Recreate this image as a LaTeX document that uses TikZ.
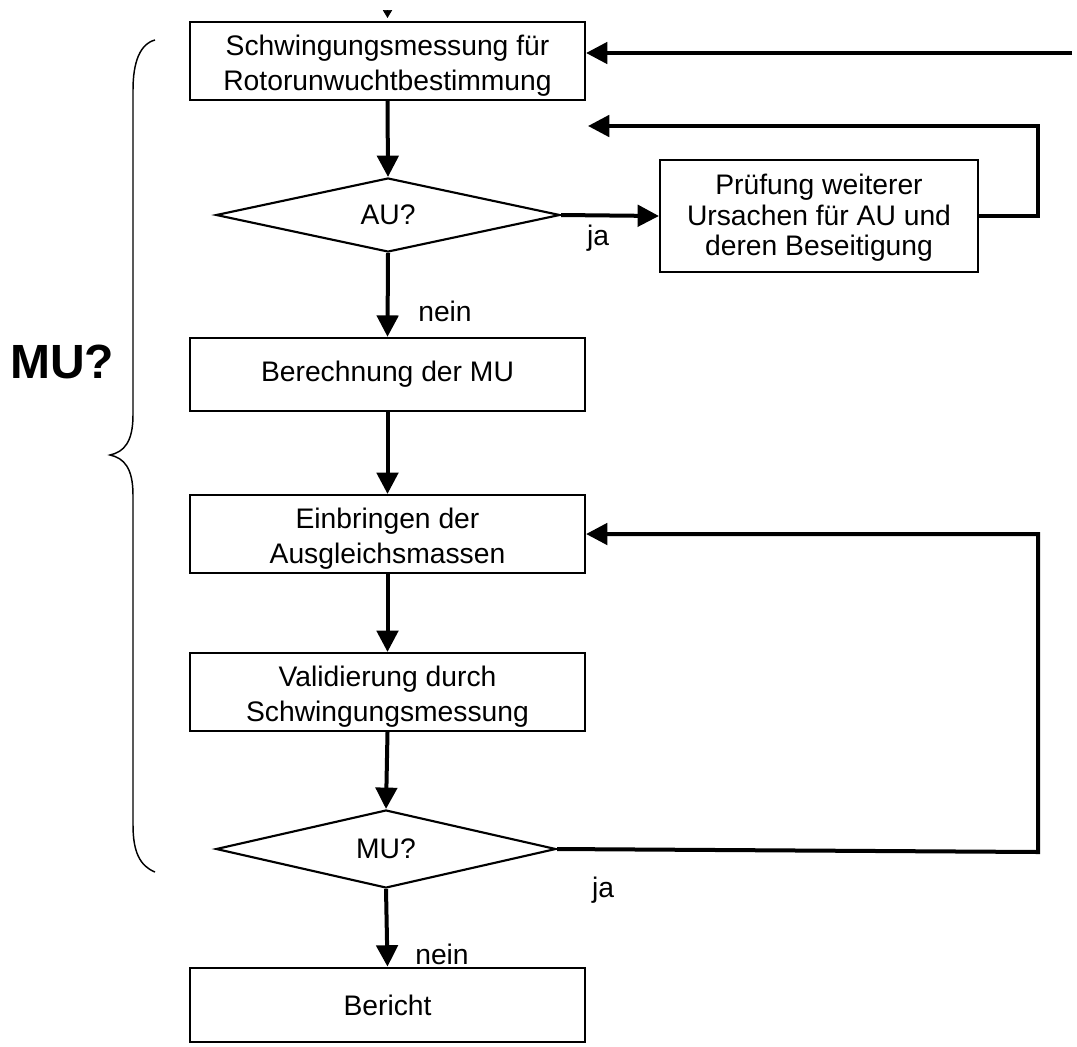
\documentclass[tikz,border=0pt]{standalone}
\usepackage{fontspec}
\setmainfont{Liberation Sans}
\usetikzlibrary{arrows.meta,shapes.geometric}
\newcommand\mytopstrut{\rule{0pt}{23pt}}
\begin{document}
\begin{tikzpicture}[x=0.75pt,y=-0.75pt,
  every node/.style={font=\fontsize{21.2}{26.2}\selectfont},
  procbox/.style={draw, line width=1.6pt, minimum width=296.25pt, minimum height=58.5pt, inner sep=2pt, align=center},
  decision/.style={diamond, draw, line width=1.6pt, inner sep=0pt, aspect=4.6},
  flow/.style={line width=3pt, -{Triangle[length=16pt,width=16pt]}},
  lbl/.style={inner sep=0pt}
]
\useasboundingbox (0,0) rectangle (1077,1046);

% nodes
\node[procbox] (mess) at (387.5,61) {\mytopstrut Schwingungsmessung für\\Rotorunwuchtbestimmung};
\node[decision, minimum width=258pt, minimum height=55.5pt] (au) at (388,215) {AU?};
\node[procbox, minimum width=238.5pt, minimum height=84pt, font=\fontsize{21.2}{23}\selectfont] (pruef) at (819,216) {\rule{0pt}{18pt}Prüfung weiterer\\Ursachen für AU und\\deren Beseitigung};
\node[procbox, minimum height=55pt] (ber) at (387.5,374.5) {Berechnung der MU};
\node[procbox] (ein) at (387.5,534) {\mytopstrut Einbringen der\\Ausgleichsmassen};
\node[procbox] (val) at (387.5,692) {\mytopstrut Validierung durch\\Schwingungsmessung};
\node[decision, minimum width=255pt, minimum height=58.5pt] (mu) at (386,849) {MU?};
\node[procbox, minimum height=56pt] (bericht) at (387.5,1005) {Bericht};

% labels
\node[lbl] (ja1) at (598,238) {ja};
\node[lbl] (nein1) at (445,311) {nein};
\node[lbl] (ja2) at (603,890) {ja};
\node[lbl] (nein2) at (442,954) {nein};
\node[lbl, font=\fontsize{36}{40}\selectfont\bfseries] (mulbl) at (62,362) {MU?};

% coordinates
\coordinate (topin) at (387.5,11);
\coordinate (rightin) at (1072,53);
\coordinate (r1) at (1038,216);
\coordinate (r2) at (1038,126);
\coordinate (back1) at (588,126);
\coordinate (r3) at (1038,852);
\coordinate (r4) at (1038,534);

% connectors
\draw[line width=0.5pt, -{Triangle[length=6pt,width=7pt]}] (topin) -- ++(0,7);
\draw[flow] (rightin) -- (mess.east |- rightin);
\draw[flow] (mess.south) -- (au.north);
\draw[flow] (au.east) -- (pruef.west);
\draw[flow] (pruef.east) -- (r1) -- (r2) -- (back1);
\draw[flow] (au.south) -- (ber.north);
\draw[flow] (ber.south) -- (ein.north);
\draw[flow] (ein.south) -- (val.north);
\draw[flow] (val.south) -- (mu.north);
\draw[flow] (mu.east) -- (r3) -- (r4) -- (ein.east);
\draw[flow] (mu.south) -- (bericht.north);

% brace
\draw[line width=1.1pt] (155,40) .. controls (140,44) and (133,62) .. (133,90)
  -- (133,415) .. controls (133,442) and (124,452) .. (110,455)
  .. controls (124,458) and (133,468) .. (133,495)
  -- (133,825) .. controls (133,852) and (140,866) .. (155,872);
\end{tikzpicture}
\end{document}
